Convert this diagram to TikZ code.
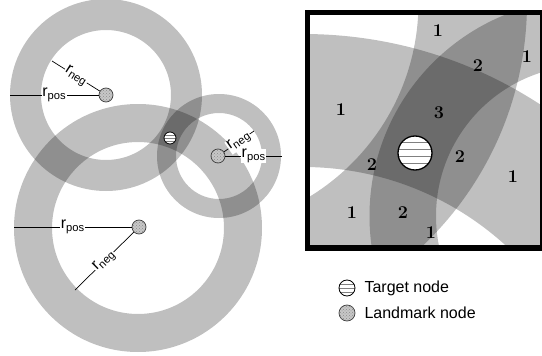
\documentclass[tikz,border=0pt]{standalone}
\usepackage{fontspec}
\newfontfamily\sansfont{Liberation Sans}
\usetikzlibrary{patterns,calc}

\tikzset{
  ring/.style={fill=black, fill opacity=0.25, even odd rule},
  landmark/.style={circle, draw=black!75, line width=0.7pt, minimum size=14pt, inner sep=0pt,
    preaction={fill=black!22}, pattern=crosshatch dots, pattern color=black!45},
  target/.style={circle, draw, fill=white, inner sep=0pt,
    path picture={\foreach \k in {1,...,#1}
      \draw[black!50, line width=0.8pt]
        ($(path picture bounding box.south west)!{\k/(#1+1)}!(path picture bounding box.north west)$) --
        ($(path picture bounding box.south east)!{\k/(#1+1)}!(path picture bounding box.north east)$);}},
  rline/.style={line width=0.7pt},
  rlabel/.style={font=\sansfont\fontsize{16}{18}\selectfont, fill=white, inner sep=0.5pt},
  cnt/.style={font=\fontsize{18}{20}\selectfont\bfseries},
  legend/.style={font=\sansfont\fontsize{16}{18}\selectfont, anchor=west}
}

% the three rings around the landmarks
\newcommand\ringset{
  \fill[ring] (106,95) circle[radius=96] circle[radius=65];
  \fill[ring] (219,156) circle[radius=62] circle[radius=43];
  \fill[ring] (138,228) circle[radius=124] circle[radius=86];
}

\begin{document}
\begin{tikzpicture}[x=1pt, y=-1pt]
  \useasboundingbox[fill=white] (0,0) rectangle (542,356);

  % rings
  \ringset

  % landmarks and target
  \node[landmark] (L1) at (106,95) {};
  \node[landmark] (L2) at (218,156) {};
  \node[landmark] (L3) at (139,227) {};
  \node[target=3, minimum size=12pt, line width=0.8pt] (T) at (170,138) {};

  % radii
  \coordinate (p1) at (10,95);
  \coordinate (n1) at (52,61);
  \draw[rline] (p1) -- node[rlabel] {r\textsubscript{pos}} (L1);
  \draw[rline] (n1) -- node[rlabel, sloped] {r\textsubscript{neg}} (L1);

  \coordinate (p2) at (282,156);
  \coordinate (n2) at (254,131);
  \draw[rline] (L2) -- node[rlabel] {r\textsubscript{pos}} (p2);
  \draw[rline] (L2) -- node[rlabel, sloped] {r\textsubscript{neg}} (n2);

  \coordinate (p3) at (14,227);
  \coordinate (n3) at (75,290);
  \draw[rline] (p3) -- node[rlabel] {r\textsubscript{pos}} (L3);
  \draw[rline] (L3) -- node[rlabel, sloped] {r\textsubscript{neg}} (n3);

  % zoomed view
  \begin{scope}
    \clip (310,15) rectangle (540,245);
    \begin{scope}[shift={(415,153)}, scale=3.5, shift={(-170,-138)}]
      \ringset
    \end{scope}
    \node[target=4, minimum size=34pt, line width=1.3pt] (TZ) at (415,153) {};
  \end{scope}
  \draw[line width=5.5pt] (307.5,12.5) rectangle (542.5,248);

  % counts
  \node[cnt] (c1) at (438,31) {1};
  \node[cnt] (c2) at (527,57) {1};
  \node[cnt] (c3) at (478,66) {2};
  \node[cnt] (c4) at (341,110) {1};
  \node[cnt] (c5) at (439,113) {3};
  \node[cnt] (c6) at (460,157) {2};
  \node[cnt] (c7) at (372,165) {2};
  \node[cnt] (c8) at (513,177) {1};
  \node[cnt] (c9) at (352,213) {1};
  \node[cnt] (c10) at (403,213) {2};
  \node[cnt] (c11) at (431,233) {1};

  % legend
  \node[target=3, minimum size=16pt, line width=0.8pt] (kt) at (347,288) {};
  \node[legend] (ktl) at (361,288) {Target node};
  \node[landmark, minimum size=16pt] (kl) at (347,313) {};
  \node[legend] (kll) at (361,313) {Landmark node};
\end{tikzpicture}
\end{document}
